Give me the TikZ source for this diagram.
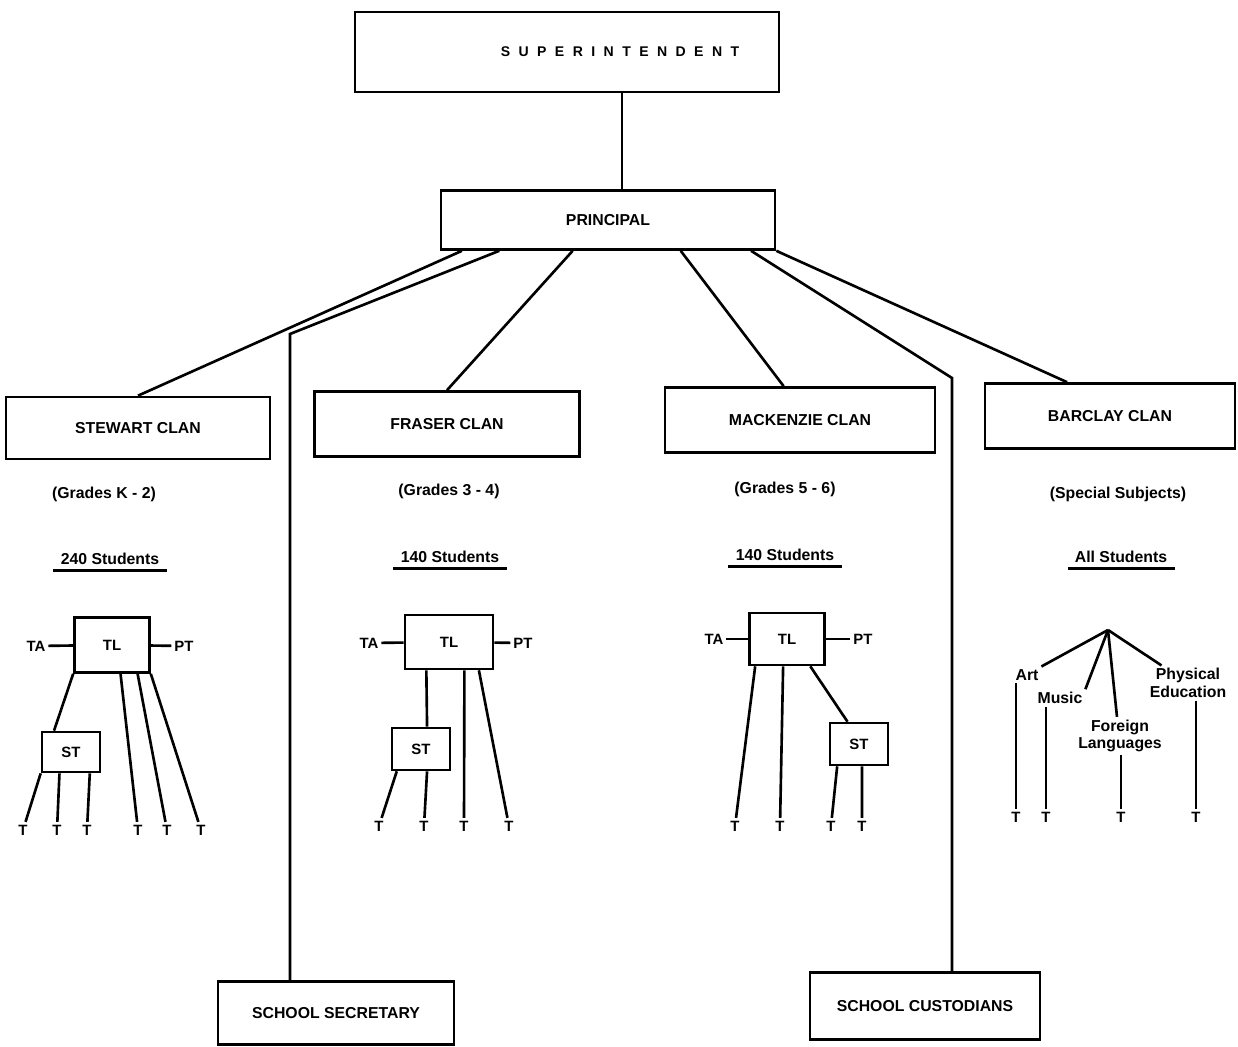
\documentclass[tikz,border=0pt]{standalone}
\usepackage{fontspec}
\setmainfont{Liberation Sans}
\usetikzlibrary{positioning,calc}

\begin{document}
\begin{tikzpicture}
	[x=0.02cm,y=-0.02cm,
	box/.style={draw=black,line width=1.5pt,inner sep=0pt,font=\bfseries\fontsize{9}{10}\selectfont},
	smallbox/.style={draw=black,line width=1.5pt,inner sep=0pt,font=\bfseries\fontsize{8.5}{9}\selectfont},
	lbl/.style={font=\bfseries\fontsize{9}{10}\selectfont,inner sep=1.5pt,align=center},
	stu/.style={lbl,inner xsep=4pt,inner ysep=3pt,append after command={(\tikzlastnode.south west) edge[ln] (\tikzlastnode.south east)}},
	tt/.style={font=\bfseries\fontsize{8.5}{9}\selectfont,inner sep=1.5pt},
	ln/.style={line width=1.5pt}]
	\useasboundingbox (0,0) rectangle (1238,1047);
	%LEVEL 0
	\node[box,minimum width=8.48cm,minimum height=1.6cm] (sup) at (567,52) {};
	\node[font=\bfseries\fontsize{8}{9}\selectfont\addfontfeature{LetterSpace=60}] (suptxt) at (620,52) {SUPERINTENDENT};
	\node[box,minimum width=6.68cm,minimum height=1.18cm] (prin) at (608,220) {PRINCIPAL};
	\draw[ln] (sup.south -| 622,0) -- (prin.north -| 622,0);
	%LEVEL 1
	\node[box,minimum width=5.28cm,minimum height=1.24cm] (stew) at (138,428) {STEWART CLAN};
	\node[box,minimum width=5.3cm,minimum height=1.3cm] (fras) at (447,424) {FRASER CLAN};
	\node[box,minimum width=5.4cm,minimum height=1.3cm] (mack) at (800,420) {MACKENZIE CLAN};
	\node[box,minimum width=5.0cm,minimum height=1.3cm] (barc) at (1110,416) {BARCLAY CLAN};
	\node[box,minimum width=4.72cm,minimum height=1.26cm] (sec) at (336,1013) {SCHOOL SECRETARY};
	\node[box,minimum width=4.6cm,minimum height=1.34cm] (cus) at (925,1006) {SCHOOL CUSTODIANS};
	\coordinate (secbend) at (290,334);
	\coordinate (cusbend) at (952,378);
	\draw[ln] ($(prin.south west)!0.066!(prin.south east)$) -- (stew.north);
	\draw[ln] ($(prin.south west)!0.177!(prin.south east)$) -- (secbend) -- (sec.north -| secbend);
	\draw[ln] ($(prin.south west)!0.395!(prin.south east)$) -- (fras.north);
	\draw[ln] ($(prin.south west)!0.716!(prin.south east)$) -- ($(mack.north west)!0.44!(mack.north east)$);
	\draw[ln] ($(prin.south west)!0.925!(prin.south east)$) -- (cusbend) -- (cus.north -| cusbend);
	\draw[ln] (prin.south east) -- ($(barc.north west)!0.33!(barc.north east)$);
	%GRADES
	\node[lbl] (gr1) at (104,494) {(Grades K - 2)};
	\node[lbl] (gr2) at (449,491) {(Grades 3 - 4)};
	\node[lbl] (gr3) at (785,489) {(Grades 5 - 6)};
	\node[lbl] (gr4) at (1118,494) {(Special Subjects)};
	\node[stu] (stu1) at (110,559) {240 Students};
	\node[stu] (stu2) at (450,557) {140 Students};
	\node[stu] (stu3) at (785,555) {140 Students};
	\node[stu] (stu4) at (1121,557) {All Students};
	%STEWART
	\node[smallbox,minimum width=1.5cm,minimum height=1.1cm] (tl1) at (112,645) {TL};
	\node[smallbox,minimum width=1.16cm,minimum height=0.8cm] (st1) at (71,752) {ST};
	\node[tt] (ta1) at (36,646) {TA};
	\node[tt] (pt1) at (184,646) {PT};
	\draw[ln] (ta1) -- (tl1);
	\draw[ln] (tl1) -- (pt1);
	\draw[ln] (tl1.south west) -- ($(st1.north west)!0.22!(st1.north east)$);
	\foreach \n/\x in {1/23,2/57,3/87,4/138,5/167,6/201}
	\node[tt] (sw\n) at (\x,830) {T};
	\foreach \f/\n in {0/1,0.31/2,0.81/3}
	\draw[ln] ($(st1.south west)!\f!(st1.south east)$) -- (sw\n);
	\foreach \f/\n in {0.61/4,0.83/5,1/6}
	\draw[ln] ($(tl1.south west)!\f!(tl1.south east)$) -- (sw\n);
	%FRASER
	\node[smallbox,minimum width=1.76cm,minimum height=1.08cm] (tl2) at (449,642) {TL};
	\node[smallbox,minimum width=1.16cm,minimum height=0.84cm] (st2) at (421,749) {ST};
	\node[tt] (ta2) at (369,643) {TA};
	\node[tt] (pt2) at (523,643) {PT};
	\draw[ln] (ta2) -- (tl2);
	\draw[ln] (tl2) -- (pt2);
	\draw[ln] ($(tl2.south west)!0.25!(tl2.south east)$) -- ($(st2.north west)!0.6!(st2.north east)$);
	\foreach \n/\x in {1/379,2/424,3/464,4/509}
	\node[tt] (fr\n) at (\x,826) {T};
	\foreach \f/\n in {0.1/1,0.6/2}
	\draw[ln] ($(st2.south west)!\f!(st2.south east)$) -- (fr\n);
	\foreach \f/\n in {0.67/3,0.83/4}
	\draw[ln] ($(tl2.south west)!\f!(tl2.south east)$) -- (fr\n);
	%MACKENZIE
	\node[smallbox,minimum width=1.5cm,minimum height=1.04cm] (tl3) at (787,639) {TL};
	\node[smallbox,minimum width=1.16cm,minimum height=0.84cm] (st3) at (859,744) {ST};
	\node[tt] (ta3) at (714,639) {TA};
	\node[tt] (pt3) at (863,639) {PT};
	\draw[ln] (ta3) -- (tl3);
	\draw[ln] (tl3) -- (pt3);
	\draw[ln] ($(tl3.south west)!0.8!(tl3.south east)$) -- ($(st3.north west)!0.31!(st3.north east)$);
	\foreach \n/\x in {1/735,2/780,3/831,4/862}
	\node[tt] (mk\n) at (\x,826) {T};
	\foreach \f/\n in {0.09/1,0.45/2}
	\draw[ln] ($(tl3.south west)!\f!(tl3.south east)$) -- (mk\n);
	\foreach \f/\n in {0.14/3,0.55/4}
	\draw[ln] ($(st3.south west)!\f!(st3.south east)$) -- (mk\n);
	%BARCLAY
	\coordinate (apex) at (1108,630);
	\node[lbl] (art) at (1027,675) {Art};
	\node[lbl] (music) at (1060,698) {Music};
	\node[lbl] (lang) at (1120,736) {Foreign\\Languages};
	\node[lbl] (phys) at (1188,683) {Physical\\Education};
	\foreach \n/\x in {1/1016,2/1046,3/1121,4/1196}
	\node[tt] (bc\n) at (\x,817) {T};
	\draw[ln] (apex) -- (art.north east);
	\draw[ln] (apex) -- (music.north east);
	\draw[ln] (apex) -- (lang.north -| 1117,0);
	\draw[ln] (apex) -- (phys);
	\draw[ln] (art.south -| bc1) -- (bc1);
	\draw[ln] (music.south -| bc2) -- (bc2);
	\draw[ln] (lang.south -| bc3) -- (bc3);
	\draw[ln] (phys.south -| bc4) -- (bc4);
\end{tikzpicture}
\end{document}
